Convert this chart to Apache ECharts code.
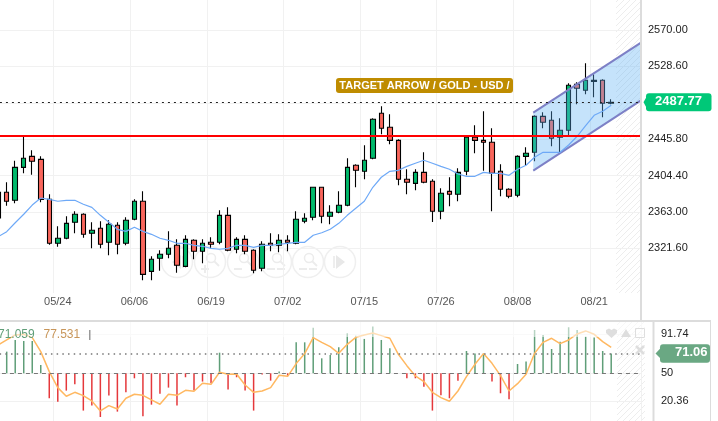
<!DOCTYPE html>
<html>
<head>
<meta charset="utf-8">
<style>html,body{margin:0;padding:0;background:#fff;overflow:hidden}#c{width:718px;height:421px}</style>
<script src="https://cdn.jsdelivr.net/npm/echarts@6/dist/echarts.min.js"></script>
</head>
<body>
<div id="c"></div>
<script>
const dates = ['05/15','05/16','05/17','05/20','05/21','05/22','05/23','05/24','05/27','05/28','05/29','05/30','05/31','06/03','06/04','06/05','06/06','06/07','06/10','06/11','06/12','06/13','06/14','06/17','06/18','06/19','06/20','06/21','06/24','06/25','06/26','06/27','06/28','07/01','07/02','07/03','07/04','07/05','07/08','07/09','07/10','07/11','07/12','07/15','07/16','07/17','07/18','07/19','07/22','07/23','07/24','07/25','07/26','07/29','07/30','07/31','08/01','08/02','08/05','08/06','08/07','08/08','08/09','08/12','08/13','08/14','08/15','08/16','08/19','08/20','08/21','08/22','08/23','','',''];
const labelledDates = ['05/24','06/06','06/19','07/02','07/15','07/26','08/08','08/21'];
// open, close, low, high
const ohlc = [
[2356.2,2385.4,2356.2,2385.4],[2385.4,2375.2,2370.2,2396.8],[2376.3,2413.8,2372.9,2421.3],[2413.8,2424.1,2407.0,2450.6],[2426.3,2420.7,2405.4,2433.2],
[2422.9,2377.4,2374.0,2426.3],[2377.4,2327.4,2325.8,2383.1],[2327.4,2333.1,2323.5,2346.7],[2333.1,2350.1,2331.9,2358.1],[2351.3,2360.4,2338.8,2363.8],
[2360.4,2337.6,2333.8,2361.5],[2338.8,2342.2,2321.7,2351.3],[2344.5,2326.3,2321.7,2352.4],[2328.5,2349.0,2313.7,2353.6],[2347.9,2326.3,2314.9,2351.3],
[2327.4,2353.6,2325.1,2357.0],[2354.7,2375.2,2353.6,2377.4],[2375.2,2292.1,2285.3,2386.5],[2295.5,2309.2,2285.3,2312.6],[2310.3,2314.9,2296.2,2319.4],
[2314.9,2321.7,2310.3,2341.0],[2325.1,2302.4,2294.0,2331.9],[2301.2,2331.9,2300.1,2336.5],[2330.8,2318.3,2309.2,2331.9],[2318.3,2327.4,2304.6,2331.9],
[2328.5,2326.3,2321.7,2334.2],[2328.5,2359.2,2326.3,2364.9],[2359.2,2319.4,2318.3,2368.3],[2320.6,2331.9,2316.0,2334.2],[2331.9,2318.3,2314.9,2336.5],
[2319.4,2296.7,2293.3,2320.6],[2299.0,2326.3,2295.5,2329.7],[2327.4,2325.1,2318.3,2338.8],[2325.1,2330.8,2317.2,2337.6],[2330.8,2328.5,2318.3,2336.5],
[2327.4,2354.7,2326.3,2363.8],[2352.4,2355.8,2350.1,2361.5],[2357.0,2391.1,2353.6,2391.1],[2391.1,2358.1,2350.1,2391.1],[2358.1,2362.7,2349.0,2370.6],
[2362.7,2370.6,2361.5,2386.5],[2370.6,2413.8,2369.5,2424.1],[2416.1,2410.4,2391.1,2417.2],[2409.3,2421.8,2400.2,2438.9],[2424.1,2468.4,2422.9,2469.6],
[2475.3,2458.2,2451.4,2483.2],[2459.3,2444.5,2440.0,2474.1],[2444.5,2400.2,2393.4,2445.7],[2400.2,2396.8,2383.1,2411.6],[2395.6,2408.1,2387.7,2411.6],
[2408.1,2396.8,2395.6,2430.9],[2397.9,2363.8,2351.6,2400.2],[2363.8,2384.3,2354.7,2390.0],[2386.5,2383.1,2369.5,2402.5],[2383.1,2408.1,2375.2,2412.7],
[2409.3,2448.0,2404.7,2448.0],[2448.0,2444.5,2429.8,2461.6],[2444.5,2442.3,2410.0,2477.5],[2442.3,2407.0,2363.8,2458.2],[2409.3,2388.8,2380.9,2417.2],
[2388.8,2380.9,2378.6,2390.0],[2382.0,2426.3,2379.7,2427.5],[2426.3,2429.8,2416.1,2436.6],[2430.9,2471.8,2420.7,2473.0],[2471.8,2465.0,2458.2,2476.4],
[2467.3,2446.8,2437.7,2477.5],[2448.0,2455.9,2430.9,2469.6],[2455.9,2507.1,2450.2,2509.4],[2508.2,2503.7,2485.5,2510.5],[2501.4,2512.8,2496.9,2532.1],
[2511.6,2512.8,2493.5,2519.6],[2512.8,2486.6,2470.7,2513.9],[2486.6,2487.77,2485.5,2491.2]
];
const maLine = [2334.9,2340.6,2350.8,2360.4,2370.9,2378.9,2377.4,2375.2,2376.3,2376.3,2371.8,2368.3,2359.2,2351.3,2343.3,2341.0,2345.6,2341.0,2337.6,2333.1,2330.8,2327.4,2327.4,2325.1,2324.0,2321.7,2320.6,2321.7,2325.1,2325.1,2322.8,2325.1,2325.1,2326.3,2327.4,2328.5,2328.5,2336.5,2339.4,2343.3,2350.1,2359.2,2367.2,2375.2,2391.1,2402.5,2409.3,2410.4,2414.9,2418.4,2421.8,2418.4,2414.9,2411.6,2406.2,2403.6,2403.6,2408.1,2407.0,2407.0,2404.7,2411.6,2416.1,2425.2,2430.9,2430.9,2430.9,2439.2,2449.1,2461.1,2473.0,2477.5,2484.3];
const histValues = [70,73.0,85.4,84.3,84.3,58.9,23.5,19.9,31.6,38.3,10.4,15.7,3.6,26.3,9.3,29.8,44.7,4.3,16.7,28.4,34.8,15.7,45.8,31.6,41.2,39.4,71.9,32.7,45.8,31.6,10.4,48.6,42.2,51.8,47.5,82.9,82.9,98.5,65.9,69.5,77.6,92.5,90.0,86.5,99.6,85.4,76.6,50,44.7,44.7,35.8,10.4,26.6,23.5,42.2,73.7,70.9,70.9,41.2,28.8,22.5,59.9,62.4,96.0,90.7,75.8,83.6,98.9,96.0,88.9,87.9,73.7,71.06];
const oscLine = [80.1,85.4,90.7,91.4,87.9,73.0,51.8,34.8,25.6,29.8,26.3,20.6,10.0,15.7,12.1,23.5,27.7,26.6,21.7,17.1,27.7,26.6,31.9,30.9,39.4,38.3,51.1,48.9,49.3,37.6,29.8,31.2,34.8,47.9,46.8,60.3,70.9,87.9,82.9,78.3,71.2,80.8,88.2,90.7,92.8,90.0,87.2,70.2,58.1,47.2,41.2,29.8,24.2,20.3,31.2,46.5,59.6,70.9,60.6,47.5,31.2,39.0,48.9,71.2,82.9,87.2,81.5,85.4,91.8,95.0,91.4,83.6,77.531];
const priceTicks = [2570,2528.6,2445.8,2404.4,2363,2321.6];
const priceGridLines = [2570,2528.6,2487.2,2445.8,2404.4,2363,2321.6];
const oscTicks = [91.74,50,20.36];
const lastPrice = 2487.77;
const resistance = 2449.43;
const oscValue = 71.06;
const oscMid = 50;
const channelIdx = [63,75];
const channelUpper = [2476.9,2552.4];
const channelLower = [2411.0,2486.8];
const legendA = '71.059', legendB = '77.531';
const title = 'TARGET ARROW / GOLD - USD /';

const FONT = '"Liberation Sans", Arial, sans-serif';
const PR = 641, LEFT = -6.07;

function hatch(){
  const c = document.createElement('canvas'); c.width = c.height = 6;
  const g = c.getContext('2d');
  g.strokeStyle = 'rgba(0,0,0,0.07)'; g.lineWidth = 1;
  g.beginPath(); g.moveTo(-1,7); g.lineTo(7,-1); g.moveTo(-1,1); g.lineTo(1,-1); g.moveTo(5,7); g.lineTo(7,5); g.stroke();
  return {image:c, repeat:'repeat'};
}
const pat = hatch();

const G = [];
G.push({type:'rect',z:0,shape:{x:616,y:0,width:24,height:293},style:{fill:pat}});
G.push({type:'rect',z:0,shape:{x:617,y:322,width:28,height:99},style:{fill:pat}});
// zoom buttons
const ic='#ececec';
[177,210,243,276,308,340].forEach((cx,i)=>{
  const cy=262;
  G.push({type:'circle',z:0,shape:{cx,cy,r:15.5},style:{fill:'rgba(255,255,255,0.6)',stroke:'#efefef',lineWidth:1.5}});
  if(i===0||i===5){
    const d=i===0?-1:1;
    G.push({type:'polygon',z:0,shape:{points:[[cx-4*d,cy-7],[cx+5*d,cy],[cx-4*d,cy+7]]},style:{fill:'#e8e8e8'}});
    G.push({type:'line',z:0,shape:{x1:cx-6*d,y1:cy-6,x2:cx-6*d,y2:cy+6},style:{stroke:'#e8e8e8',lineWidth:1.5}});
  } else {
    G.push({type:'circle',z:0,shape:{cx:cx+1,cy:cy-4,r:4.5},style:{fill:'none',stroke:ic,lineWidth:1.5}});
    G.push({type:'line',z:0,shape:{x1:cx+4,y1:cy-1,x2:cx+9,y2:cy+4},style:{stroke:ic,lineWidth:2}});
    G.push({type:'line',z:0,shape:{x1:cx-9,y1:cy+7,x2:cx-1,y2:cy+7},style:{stroke:ic,lineWidth:2}});
    if(i===1) G.push({type:'line',z:0,shape:{x1:cx-5,y1:cy+3,x2:cx-5,y2:cy+11},style:{stroke:ic,lineWidth:2}});
    if(i===3||i===4) G.push({type:'line',z:0,shape:{x1:cx+1,y1:cy+7,x2:cx+9,y2:cy+7},style:{stroke:ic,lineWidth:2}});
  }
});
// separators
const Z=40;
G.push({type:'rect',z:Z,shape:{x:640,y:0,width:2,height:320},style:{fill:'#dcdcdc'}});
G.push({type:'rect',z:Z,shape:{x:0,y:320,width:711,height:2},style:{fill:'#dcdcdc'}});
G.push({type:'rect',z:Z,shape:{x:652.5,y:322,width:2,height:99},style:{fill:'#dcdcdc'}});
G.push({type:'rect',z:Z,shape:{x:710,y:322,width:1,height:99},style:{fill:'#dcdcdc'}});
// fade at top of lower panel
G.push({type:'rect',z:Z,shape:{x:0,y:322,width:652,height:15},style:{fill:'rgba(255,255,255,0.55)'}});
// headline
G.push({type:'rect',z:Z,shape:{x:336,y:78,width:177,height:15,r:3},style:{fill:'#bf8c00'}});
G.push({type:'text',z:Z+1,x:424.5,y:85.5,style:{text:title,fill:'#fff',font:'bold 11px '+FONT,align:'center',verticalAlign:'middle'}});
// legend
G.push({type:'text',z:Z+1,x:-2,y:335,style:{text:legendA,fill:'#5f9e78',font:'12px '+FONT,verticalAlign:'middle'}});
G.push({type:'text',z:Z+1,x:43.5,y:335,style:{text:legendB,fill:'#c8965a',font:'12px '+FONT,verticalAlign:'middle'}});
G.push({type:'rect',z:Z+1,shape:{x:89,y:330,width:1.5,height:10},style:{fill:'#999'}});
// panel icons
const ig='#dedede';
G.push({type:'polygon',z:Z+1,shape:{points:[[606,330],[609,328.5],[611.5,330],[614,328.5],[617,330],[617,333],[611.5,338],[606,333]]},style:{fill:ig}});
G.push({type:'polygon',z:Z+1,shape:{points:[[621,337],[626,329],[631,337]]},style:{fill:ig}});
G.push({type:'rect',z:Z+1,shape:{x:635.5,y:328.5,width:9,height:9},style:{fill:'none',stroke:ig,lineWidth:1}});
G.push({type:'line',z:Z+1,shape:{x1:636,y1:346,x2:644,y2:354},style:{stroke:ig,lineWidth:2.5}});
G.push({type:'line',z:Z+1,shape:{x1:644,y1:346,x2:636,y2:354},style:{stroke:ig,lineWidth:2.5}});

function tag(api, yVal, x0, tip, x1, h, color, txt, tx, r){
  const y = api.coord([0,yVal])[1];
  return {type:'group',silent:true,children:[
    {type:'rect',shape:{x:x0,y:y-h/2,width:x1-x0,height:h,r:r},style:{fill:color}},
    {type:'polygon',shape:{points:[[tip,y],[x0,y-h/4],[x0,y+h/4]]},style:{fill:color}},
    {type:'text',x:tx,y:y-0.8,style:{text:txt,fill:'#fff',font:'bold 13px '+FONT,align:'right',verticalAlign:'middle'}}
  ]};
}

const option = {
  animation:false,
  backgroundColor:'#fff',
  grid:[
    {left:LEFT,top:0,width:PR-LEFT,height:293,outerBoundsMode:'none'},
    {left:LEFT,top:322,width:PR-LEFT,height:99,outerBoundsMode:'none'}
  ],
  xAxis:[0,1].map(k=>({
    type:'category',gridIndex:k,data:dates,boundaryGap:true,
    axisLine:{show:false},
    axisTick:{show:false,alignWithLabel:true,interval:(i,v)=>labelledDates.includes(v)},
    splitLine:{show:true,interval:(i,v)=>labelledDates.includes(v),lineStyle:{color:'#f1f1f1',width:1}},
    axisLabel:{show:k===0,interval:(i,v)=>labelledDates.includes(v),color:'#555',fontSize:11,fontFamily:FONT,margin:3,hideOverlap:false}
  })),
  yAxis:[
    {type:'value',gridIndex:0,position:'right',min:2270.86,max:2604.12,scale:true,
     axisLine:{show:false},axisTick:{show:false,customValues:priceGridLines},
     axisLabel:{customValues:priceTicks,formatter:v=>v.toFixed(2),color:'#222',fontSize:11,fontFamily:FONT,margin:7,align:'left',padding:[0,0,2,0]},
     splitLine:{show:true,lineStyle:{color:'#f1f1f1',width:1}}},
    {type:'value',gridIndex:1,position:'right',min:-0.66,max:104.48,
     axisLine:{show:false},axisTick:{show:false,customValues:oscTicks},
     axisLabel:{customValues:oscTicks,formatter:v=>String(v),color:'#222',fontSize:11,fontFamily:FONT,margin:20,align:'left',padding:[0,0,1,0]},
     splitLine:{show:true,lineStyle:{color:'#f1f1f1',width:1}}}
  ],
  graphic:{elements:G},
  series:[
    {type:'candlestick',name:'GOLD',xAxisIndex:0,yAxisIndex:0,z:2,barWidth:5,data:ohlc,silent:true,
     itemStyle:{color:'#00b96b',color0:'#f9665c',borderColor:'#000',borderColor0:'#000',borderWidth:1.1}},
    {type:'custom',name:'channel',xAxisIndex:0,yAxisIndex:0,z:3,silent:true,data:[[channelIdx[0],channelUpper[0],channelLower[0],channelIdx[1],channelUpper[1],channelLower[1]]],
     encode:{x:[0,3],y:[1,2,4,5]},
     renderItem:(p,api)=>{
       const a=api.coord([channelIdx[0],channelUpper[0]]),b=api.coord([channelIdx[1],channelUpper[1]]);
       const c=api.coord([channelIdx[0],channelLower[0]]),d=api.coord([channelIdx[1],channelLower[1]]);
       const xs=a[0]-1.3, xe=PR; 
       const at=(s,e,x)=>s[1]+(e[1]-s[1])*(x-s[0])/(e[0]-s[0]);
       const tl=[xs,at(a,b,xs)],tr=[xe,at(a,b,xe)],bl=[xs,at(c,d,xs)],br=[xe,at(c,d,xe)];
       return {type:'group',children:[
         {type:'polygon',shape:{points:[tl,tr,br,bl]},style:{fill:'rgba(95,178,245,0.36)'}},
         {type:'line',shape:{x1:tl[0],y1:tl[1],x2:tr[0],y2:tr[1]},style:{stroke:'#7d80c6',lineWidth:2}},
         {type:'line',shape:{x1:bl[0],y1:bl[1],x2:br[0],y2:br[1]},style:{stroke:'#7d80c6',lineWidth:2}}
       ]};
     }},
    {type:'line',name:'MA',xAxisIndex:0,yAxisIndex:0,z:4,data:maLine,showSymbol:false,symbol:'none',silent:true,
     lineStyle:{color:'#6ea9f7',width:1.2},
     markLine:{silent:true,symbol:'none',animation:false,label:{show:false},data:[
       {yAxis:resistance,lineStyle:{color:'#f00',width:2,type:'solid'}},
       {yAxis:lastPrice,lineStyle:{color:'#222',width:1,type:[2,4]}}
     ]}},
    {type:'custom',name:'priceTag',xAxisIndex:0,yAxisIndex:0,z:30,silent:true,clip:false,data:[[0,lastPrice]],
     renderItem:(p,api)=>tag(api,lastPrice,646,643.5,711.5,18,'#00c878',lastPrice.toFixed(2),702,3)},
    {type:'custom',name:'hist',xAxisIndex:1,yAxisIndex:1,z:2,silent:true,
     data:histValues.map((v,i)=>[i,v]),
     renderItem:(p,api)=>{
       const i=api.value(0),v=api.value(1);
       if(v===oscMid) return null;
       const a=api.coord([i,oscMid]),b=api.coord([i,v]);
       return {type:'rect',shape:{x:a[0]-0.75,y:Math.min(a[1],b[1]),width:1.5,height:Math.abs(a[1]-b[1])},style:{fill:v>oscMid?'#5f9e78':'#e5383b'}};
     }},
    {type:'line',name:'osc',xAxisIndex:1,yAxisIndex:1,z:3,data:oscLine,showSymbol:false,symbol:'none',silent:true,
     lineStyle:{color:'#ffb861',width:1.5},
     markLine:{silent:true,symbol:'none',animation:false,label:{show:false},data:[
       {yAxis:oscValue,lineStyle:{color:'#777',width:1.5,type:[1.5,4.2]}},
       {yAxis:oscMid,lineStyle:{color:'#777',width:1,type:[4,4]}}
     ]}},
    {type:'custom',name:'oscTag',xAxisIndex:1,yAxisIndex:1,z:30,silent:true,clip:false,data:[[0,oscValue]],
     renderItem:(p,api)=>tag(api,oscValue,660,655.5,710,18.5,'#6aa883',oscValue.toFixed(2),707.5,3)}
  ]
};
echarts.init(document.getElementById('c'),null,{renderer:'canvas'}).setOption(option);
</script>
</body>
</html>
